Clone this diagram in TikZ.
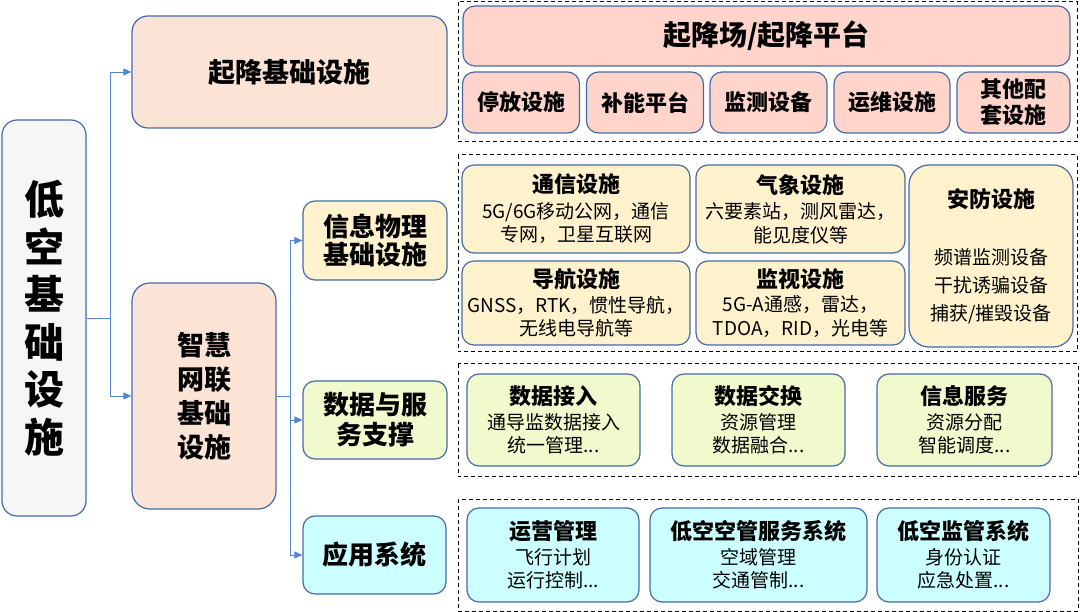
\documentclass[tikz,border=0pt]{standalone}
\usepackage{fontspec}
\setmainfont{Noto Sans CJK SC}
\usetikzlibrary{arrows.meta,positioning}

\definecolor{borde}{RGB}{70,106,168}
\definecolor{enlaceazul}{RGB}{86,132,212}
\definecolor{gris}{RGB}{246,246,246}
\definecolor{melocoton}{RGB}{251,228,214}
\definecolor{rosa}{RGB}{255,213,203}
\definecolor{crema}{RGB}{255,242,204}
\definecolor{lima}{RGB}{240,250,204}
\definecolor{aqua}{RGB}{204,255,255}

\begin{document}
\begin{tikzpicture}[x=1pt, y=-1pt,
    caja/.style={draw=borde, line width=1.2pt, rounded corners=12pt, inner sep=0pt, align=center},
    marco/.style={draw, line width=1pt, dash pattern=on 4pt off 3pt},
    enlace/.style={draw=enlaceazul, line width=0.9pt, -{Triangle[length=8pt, width=7pt]}},
    cuerpo/.style={font=\fontsize{19}{23.5}\selectfont}]

        \useasboundingbox (0,0) rectangle (1080,612);

        % Nodo raiz
        \node[caja, rounded corners=15pt, fill=gris, minimum width=84pt, minimum height=396pt,
              font=\bfseries\fontsize{40}{47.5}\selectfont] (raiz) at (44,318) {低\\空\\基\\础\\设\\施};

        % Nodos de segundo nivel
        \node[caja, rounded corners=16pt, fill=melocoton, minimum width=315pt, minimum height=112pt,
              font=\bfseries\fontsize{27}{32}\selectfont] (qijiang) at (289.5,72) {起降基础设施};
        \node[caja, rounded corners=18pt, fill=melocoton, minimum width=144pt, minimum height=226pt,
              font=\bfseries\fontsize{27}{34}\selectfont] (zhihui) at (204,396) {智慧\\网联\\基础\\设施};

        % Nodos de tercer nivel
        \node[caja, fill=crema, minimum width=144pt, minimum height=79pt,
              font=\bfseries\fontsize{26}{28}\selectfont] (xinxi) at (375,240.5) {信息物理\\基础设施};
        \node[caja, fill=lima, minimum width=144pt, minimum height=78pt,
              font=\bfseries\fontsize{26}{30}\selectfont] (shuju) at (375,420) {数据与服\\务支撑};
        \node[caja, fill=aqua, minimum width=143pt, minimum height=78pt,
              font=\bfseries\fontsize{26}{30}\selectfont] (yingyong) at (374.5,555) {应用系统};

        % Conexiones
        \coordinate (bifA) at (110,318);
        \coordinate (bifB) at (290,396);
        \draw[enlace] (raiz.east) -- (bifA) |- (qijiang.west);
        \draw[enlace] (raiz.east) -- (bifA) |- (zhihui.west);
        \draw[enlace] (zhihui.east) -- (bifB) |- (xinxi.west);
        \draw[enlace] (zhihui.east) -- (bifB) |- (shuju.west);
        \draw[enlace] (zhihui.east) -- (bifB) |- (yingyong.west);

        % Marcos punteados
        \draw[marco] (458,2) rectangle (1077,142);
        \draw[marco] (458,155) rectangle (1077,352);
        \draw[marco] (458,364) rectangle (1078,477);
        \draw[marco] (458,499) rectangle (1078,611);

        % Infraestructura de despegue
        \node[caja, fill=rosa, minimum width=607pt, minimum height=60pt,
              font=\bfseries\fontsize{28}{32}\selectfont] (pista) at (766.5,36) {起降场/起降平台};
        \node[caja, fill=rosa, minimum width=117pt, minimum height=61pt,
              font=\bfseries\fontsize{22}{26}\selectfont] (tingfang) at (521,102.5) {停放设施};
        \node[caja, fill=rosa, minimum width=117pt, minimum height=61pt,
              font=\bfseries\fontsize{22}{26}\selectfont] (buneng) at (645,102.5) {补能平台};
        \node[caja, fill=rosa, minimum width=117pt, minimum height=61pt,
              font=\bfseries\fontsize{22}{26}\selectfont] (jiance) at (768.5,102.5) {监测设备};
        \node[caja, fill=rosa, minimum width=116pt, minimum height=61pt,
              font=\bfseries\fontsize{22}{26}\selectfont] (yunwei) at (892,102.5) {运维设施};
        \node[caja, fill=rosa, minimum width=113pt, minimum height=61pt,
              font=\bfseries\fontsize{22}{26}\selectfont] (qita) at (1013.5,102.5) {其他配\\套设施};

        % Infraestructura ciberfisica
        \node[caja, fill=crema, cuerpo, minimum width=228pt, minimum height=88pt] (tongxin) at (576,209)
             {{\bfseries\fontsize{22}{26}\selectfont 通信设施}\\[2pt]5G/6G移动公网，通信\\专网，卫星互联网};
        \node[caja, fill=crema, cuerpo, minimum width=209pt, minimum height=88pt] (qixiang) at (800.5,209)
             {{\bfseries\fontsize{22}{26}\selectfont 气象设施}\\[2pt]六要素站，测风雷达，\\能见度仪等};
        \node[caja, fill=crema, cuerpo, minimum width=228pt, minimum height=84pt] (daohang) at (576,303)
             {{\bfseries\fontsize{22}{26}\selectfont 导航设施}\\[1pt]GNSS，RTK，惯性导航，\\无线电导航等};
        \node[caja, fill=crema, cuerpo, minimum width=209pt, minimum height=84pt] (jianshi) at (800.5,303)
             {{\bfseries\fontsize{22}{26}\selectfont 监视设施}\\[1pt]5G-A通感，雷达，\\TDOA，RID，光电等};
        \node[caja, rounded corners=20pt, fill=crema, minimum width=164pt, minimum height=182pt,
              font=\fontsize{19}{28}\selectfont] (anfang) at (991,256)
             {{\bfseries\fontsize{22}{26}\selectfont 安防设施}\\[29pt]频谱监测设备\\干扰诱骗设备\\捕获/摧毁设备};

        % Soporte de datos y servicios
        \node[caja, fill=lima, cuerpo, minimum width=173pt, minimum height=92pt] (jieru) at (553.5,420)
             {{\bfseries\fontsize{22}{26}\selectfont 数据接入}\\[1pt]通导监数据接入\\统一管理...};
        \node[caja, fill=lima, cuerpo, minimum width=173pt, minimum height=92pt] (jiaohuan) at (758.5,420)
             {{\bfseries\fontsize{22}{26}\selectfont 数据交换}\\[1pt]资源管理\\数据融合...};
        \node[caja, fill=lima, cuerpo, minimum width=175pt, minimum height=92pt] (fuwu) at (964.5,420)
             {{\bfseries\fontsize{22}{26}\selectfont 信息服务}\\[1pt]资源分配\\智能调度...};

        % Sistemas de aplicacion
        \node[caja, fill=aqua, cuerpo, minimum width=172pt, minimum height=94pt] (yunying) at (553,555)
             {{\bfseries\fontsize{22}{26}\selectfont 运营管理}\\[1pt]飞行计划\\运行控制...};
        \node[caja, fill=aqua, cuerpo, minimum width=217pt, minimum height=94pt] (kongguan) at (758.5,555)
             {{\bfseries\fontsize{22}{26}\selectfont 低空空管服务系统}\\[1pt]空域管理\\交通管制...};
        \node[caja, fill=aqua, cuerpo, minimum width=173pt, minimum height=94pt] (jianguan) at (963.5,555)
             {{\bfseries\fontsize{22}{26}\selectfont 低空监管系统}\\[1pt]身份认证\\应急处置...};

    \end{tikzpicture}
\end{document}
